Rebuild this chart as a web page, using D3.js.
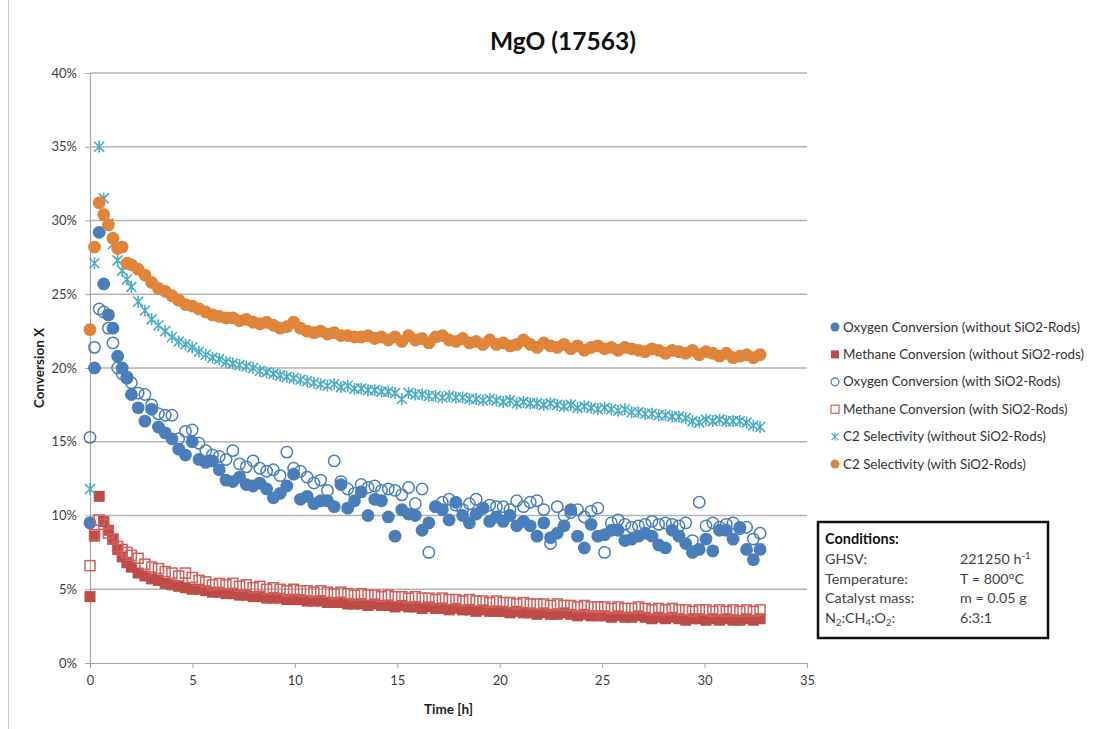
<!DOCTYPE html>
<html>
<head>
<meta charset="utf-8">
<script src="https://cdn.jsdelivr.net/npm/d3@7"></script>
<style>
  body { margin: 0; background: #fff; }
  svg { font-family: Lato, "Open Sans", sans-serif; }
</style>
</head>
<body>
<div id="chart"></div>
<script>
// sampling times [h], shared by all six series
var hours = [0, 0.22, 0.45, 0.67, 0.9, 1.12, 1.35, 1.57, 1.8, 2.02,
  2.35, 2.68, 3.01, 3.34, 3.67, 4.0, 4.33, 4.66, 4.99, 5.32,
  5.65, 5.98, 6.31, 6.64, 6.97, 7.3, 7.63, 7.96, 8.29, 8.62,
  8.95, 9.28, 9.61, 9.94, 10.27, 10.6, 10.93, 11.26, 11.59, 11.92,
  12.25, 12.58, 12.91, 13.24, 13.57, 13.9, 14.23, 14.56, 14.89, 15.22,
  15.55, 15.88, 16.21, 16.54, 16.87, 17.2, 17.53, 17.86, 18.19, 18.52,
  18.85, 19.18, 19.51, 19.84, 20.17, 20.5, 20.83, 21.16, 21.49, 21.82,
  22.15, 22.48, 22.81, 23.14, 23.47, 23.8, 24.13, 24.46, 24.79, 25.12,
  25.45, 25.78, 26.11, 26.44, 26.77, 27.1, 27.43, 27.76, 28.09, 28.42,
  28.75, 29.08, 29.41, 29.74, 30.07, 30.4, 30.73, 31.06, 31.39, 31.72,
  32.05, 32.38, 32.71];

// values in %
var oxygenWithout = [9.5, 20.0, 29.2, 25.7, 23.6, 22.7, 20.8, 20.0, 19.3, 18.2,
  17.3, 16.4, 17.2, 16.0, 15.6, 15.2, 14.5, 14.1, 15.0, 13.8,
  13.6, 13.7, 13.1, 12.4, 12.3, 12.6, 12.1, 12.0, 12.2, 11.8,
  11.2, 11.5, 12.0, 12.8, 11.1, 11.3, 10.8, 11.0, 11.0, 10.6,
  12.1, 10.5, 11.0, 11.6, 10.0, 11.1, 11.0, 9.9, 8.6, 10.4,
  10.1, 10.0, 9.0, 9.5, 10.6, 10.4, 9.7, 10.9, 10.0, 9.5,
  10.1, 10.5, 9.6, 9.9, 9.6, 10.0, 9.3, 9.6, 9.3, 8.6,
  9.5, 8.5, 8.8, 9.3, 10.4, 8.6, 7.8, 9.4, 8.6, 8.7,
  9.0, 9.0, 8.3, 8.4, 8.6, 8.8, 8.6, 8.0, 7.8, 9.0,
  8.6, 8.1, 7.5, 7.7, 8.4, 7.6, 9.0, 9.0, 8.4, 9.2,
  7.7, 7.0, 7.7];

var methaneWithout = [4.5, 8.6, 11.3, 9.6, 9.0, 8.4, 7.7, 7.2, 6.8, 6.5,
  6.1, 5.9, 5.7, 5.6, 5.4, 5.3, 5.2, 5.1, 5.0, 5.0,
  4.9, 4.8, 4.8, 4.7, 4.7, 4.6, 4.6, 4.5, 4.5, 4.4,
  4.4, 4.4, 4.3, 4.3, 4.3, 4.2, 4.2, 4.2, 4.1, 4.1,
  4.1, 4.0, 4.0, 4.0, 3.9, 4.0, 3.9, 3.9, 3.8, 3.9,
  3.8, 3.8, 3.7, 3.8, 3.7, 3.7, 3.6, 3.7, 3.6, 3.6,
  3.5, 3.6, 3.5, 3.5, 3.5, 3.4, 3.5, 3.4, 3.4, 3.3,
  3.4, 3.3, 3.3, 3.4, 3.3, 3.2, 3.3, 3.2, 3.2, 3.2,
  3.1, 3.2, 3.1, 3.1, 3.2, 3.1, 3.0, 3.1, 3.0, 3.1,
  3.0, 2.9, 3.0, 3.0, 2.9, 3.0, 2.9, 3.0, 2.9, 2.9,
  3.0, 2.9, 3.0];

var oxygenWith = [15.3, 21.4, 24.0, 23.8, 22.7, 21.7, 20.0, 19.6, 19.4, 19.0,
  18.3, 18.2, 17.5, 16.9, 16.8, 16.8, 15.2, 15.7, 15.8, 14.9,
  14.4, 14.1, 14.0, 13.8, 14.4, 13.5, 13.3, 13.7, 13.2, 13.0,
  13.1, 12.7, 14.3, 13.2, 13.0, 12.6, 12.2, 12.4, 11.7, 13.7,
  12.3, 11.8, 11.5, 12.1, 11.9, 12.0, 11.7, 11.8, 11.7, 11.4,
  11.9, 10.8, 11.8, 7.5, 10.6, 10.9, 11.1, 10.7, 10.4, 10.8,
  11.1, 10.5, 10.7, 10.6, 10.6, 10.4, 11.0, 10.6, 10.9, 11.0,
  10.4, 8.1, 10.6, 10.0, 10.2, 10.4, 9.9, 10.3, 10.5, 7.5,
  9.5, 9.7, 9.4, 9.2, 9.3, 9.4, 9.6, 9.4, 9.5, 9.4,
  9.3, 9.5, 8.3, 10.9, 9.3, 9.5, 9.2, 9.4, 9.5, 9.1,
  9.2, 8.4, 8.8];

var methaneWith = [6.6, 8.7, 9.7, 9.4, 8.8, 8.4, 7.9, 7.7, 7.5, 7.3,
  7.1, 6.7, 6.5, 6.4, 6.2, 6.1, 5.9, 6.1, 5.8, 5.6,
  5.5, 5.3, 5.4, 5.3, 5.4, 5.2, 5.3, 5.1, 5.2, 5.0,
  5.1, 5.0, 4.9, 5.0, 4.9, 4.9, 4.8, 4.9, 4.8, 4.7,
  4.8, 4.7, 4.6, 4.7, 4.6, 4.6, 4.5, 4.6, 4.5, 4.5,
  4.4, 4.5, 4.4, 4.4, 4.3, 4.4, 4.3, 4.3, 4.2, 4.3,
  4.2, 4.2, 4.1, 4.2, 4.1, 4.1, 4.0, 4.1, 4.0, 4.0,
  4.0, 3.9, 4.0, 3.9, 3.9, 3.8, 3.9, 3.8, 3.8, 3.8,
  3.7, 3.8, 3.7, 3.7, 3.8, 3.7, 3.6, 3.7, 3.6, 3.7,
  3.6, 3.6, 3.5, 3.6, 3.6, 3.5, 3.6, 3.5, 3.6, 3.5,
  3.6, 3.5, 3.6];

var c2Without = [11.8, 27.1, 35.0, 31.5, 29.8, 28.4, 27.3, 26.6, 26.0, 25.5,
  24.5, 23.9, 23.3, 22.9, 22.5, 22.1, 21.8, 21.6, 21.4, 21.1,
  20.9, 20.7, 20.6, 20.4, 20.3, 20.2, 20.1, 20.0, 19.8, 19.7,
  19.6, 19.5, 19.4, 19.3, 19.2, 19.1, 19.0, 18.9, 18.8, 18.9,
  18.7, 18.8, 18.6, 18.6, 18.5, 18.5, 18.4, 18.4, 18.3, 17.9,
  18.3, 18.2, 18.2, 18.1, 18.1, 18.0, 18.1, 18.0, 18.0, 17.9,
  17.9, 17.8, 17.9, 17.8, 17.7, 17.8, 17.6, 17.7, 17.6, 17.6,
  17.5, 17.6, 17.5, 17.4, 17.5, 17.3, 17.4, 17.3, 17.2, 17.3,
  17.2, 17.1, 17.2, 17.0, 17.0, 16.9, 16.9, 16.8, 16.8, 16.7,
  16.7, 16.6, 16.4, 16.3, 16.5, 16.4, 16.5, 16.4, 16.4, 16.4,
  16.3, 16.1, 16.0];

var c2With = [22.6, 28.2, 31.2, 30.4, 29.7, 28.8, 28.1, 28.2, 27.1, 27.0,
  26.7, 26.3, 25.8, 25.4, 25.2, 24.9, 24.6, 24.3, 24.2, 24.0,
  23.8, 23.6, 23.5, 23.4, 23.4, 23.2, 23.3, 23.1, 23.0, 23.1,
  22.9, 22.7, 22.8, 23.1, 22.7, 22.5, 22.4, 22.5, 22.3, 22.4,
  22.2, 22.2, 22.1, 22.1, 22.2, 22.0, 22.1, 21.9, 22.1, 21.8,
  22.2, 21.9, 22.0, 21.7, 22.1, 22.2, 21.9, 21.8, 22.0, 21.7,
  21.8, 21.6, 21.9, 21.6, 21.7, 21.5, 21.6, 21.9, 21.6, 21.4,
  21.7, 21.5, 21.4, 21.6, 21.3, 21.5, 21.2, 21.4, 21.5, 21.3,
  21.4, 21.2, 21.4, 21.3, 21.2, 21.1, 21.3, 21.2, 21.0, 21.2,
  21.1, 21.0, 21.2, 20.9, 21.1, 21.0, 20.8, 21.0, 20.7, 20.8,
  20.9, 20.7, 20.9];

var seriesNames = [
  "Oxygen Conversion (without SiO2-Rods)",
  "Methane Conversion (without SiO2-rods)",
  "Oxygen Conversion (with SiO2-Rods)",
  "Methane Conversion (with SiO2-Rods)",
  "C2 Selectivity (without SiO2-Rods)",
  "C2 Selectivity (with SiO2-Rods)"
];
var xTicks = [0, 5, 10, 15, 20, 25, 30, 35];
var yTicks = [0, 0.05, 0.10, 0.15, 0.20, 0.25, 0.30, 0.35, 0.40];

var width = 1106, height = 729;
var margin = {top: 73, right: 299, bottom: 65, left: 90};

var svg = d3.select("#chart").append("svg")
    .attr("width", width)
    .attr("height", height);

// faint outer chart frame (left edge is what shows)
svg.append("line")
  .attr("x1", 8.5).attr("x2", 8.5).attr("y1", 0).attr("y2", height)
  .attr("stroke", "#c8c8c8");

var x = d3.scaleLinear().domain([0, 35]).range([margin.left, width - margin.right]);
var y = d3.scaleLinear().domain([0, 0.40]).range([height - margin.bottom - 1, margin.top]);

// gridlines
svg.append("g")
  .selectAll("line")
  .data(yTicks.slice(1))
  .enter().append("line")
  .attr("x1", x(0)).attr("x2", x(35))
  .attr("y1", d => y(d)).attr("y2", d => y(d))
  .attr("stroke", "#b4b4b4")
  .attr("stroke-width", 1.5);

var yAxis = svg.append("g")
  .attr("transform", "translate(" + x(0) + ",0)")
  .call(d3.axisLeft(y).tickValues(yTicks).tickFormat(d3.format(".0%")).tickSize(5).tickPadding(8));
var xAxis = svg.append("g")
  .attr("transform", "translate(0," + y(0) + ")")
  .call(d3.axisBottom(x).tickValues(xTicks).tickSize(5).tickPadding(8));

[xAxis, yAxis].forEach(function(a) {
  a.select(".domain").attr("stroke", "#a6a6a6").attr("stroke-width", 1.2);
  a.selectAll(".tick line").attr("stroke", "#a6a6a6");
  a.selectAll(".tick text").attr("fill", "#404040").style("font-size", "13px")
    .style("font-family", "Lato, sans-serif");
});

// titles
svg.append("text")
  .attr("x", 563).attr("y", 50)
  .attr("text-anchor", "middle")
  .style("font-size", "24.5px").style("font-weight", "bold")
  .attr("fill", "#111")
  .text("MgO (17563)");

svg.append("text")
  .attr("x", x(17.5)).attr("y", 714)
  .attr("text-anchor", "middle")
  .style("font-size", "13.5px").style("font-weight", "bold")
  .attr("fill", "#222")
  .text("Time [h]");

svg.append("text")
  .attr("transform", "translate(44," + y(0.20) + ") rotate(-90)")
  .attr("text-anchor", "middle")
  .style("font-size", "13.5px").style("font-weight", "bold")
  .attr("fill", "#222")
  .text("Conversion X");

// marker shapes
var blue = "#4a7ebb", red = "#be4b48", teal = "#4bacc6", orange = "#e0843a";
var starPath = "M0,-6L0,6M-5,-5L5,5M-5,5L5,-5";

function drawMarker(g, kind) {
  if (kind === "dot") {
    return g.append("circle").attr("r", 6.4);
  } else if (kind === "ring") {
    return g.append("circle").attr("r", 5.7).attr("fill", "none").attr("stroke-width", 1.5);
  } else if (kind === "square") {
    return g.append("rect").attr("x", -5.5).attr("y", -5.5).attr("width", 11).attr("height", 11);
  } else if (kind === "box") {
    return g.append("rect").attr("x", -5).attr("y", -5).attr("width", 10).attr("height", 10)
      .attr("fill", "none").attr("stroke-width", 1.5);
  } else {
    return g.append("path").attr("d", starPath).attr("fill", "none").attr("stroke-width", 1.6);
  }
}

var series = [
  {name: seriesNames[0], values: oxygenWithout, kind: "dot", color: blue},
  {name: seriesNames[1], values: methaneWithout, kind: "square", color: red},
  {name: seriesNames[2], values: oxygenWith, kind: "ring", color: blue},
  {name: seriesNames[3], values: methaneWith, kind: "box", color: "#d0605d"},
  {name: seriesNames[4], values: c2Without, kind: "star", color: teal},
  {name: seriesNames[5], values: c2With, kind: "dot", color: orange}
];

function paint(m, s) {
  if (s.kind === "dot" || s.kind === "square") m.attr("fill", s.color);
  else m.attr("stroke", s.color);
}

series.forEach(function(s) {
  var g = svg.append("g");
  s.values.forEach(function(v, i) {
    var p = g.append("g")
      .attr("transform", "translate(" + x(hours[i]) + "," + y(v / 100) + ")");
    paint(drawMarker(p, s.kind), s);
  });
});

// legend
var legend = svg.append("g").attr("transform", "translate(835,327)");
series.forEach(function(s, i) {
  var row = legend.append("g").attr("transform", "translate(0," + (i * 27.4) + ")");
  var m = drawMarker(row, s.kind);
  if (s.kind === "dot") m.attr("r", 4.5);
  if (s.kind === "square") m.attr("x", -4).attr("y", -4).attr("width", 8).attr("height", 8);
  if (s.kind === "ring") m.attr("r", 4).attr("stroke-width", 1.2);
  if (s.kind === "box") m.attr("x", -4).attr("y", -4).attr("width", 8).attr("height", 8).attr("stroke-width", 1.2);
  if (s.kind === "star") m.attr("transform", "scale(0.7)");
  paint(m, s);
  row.append("text")
    .attr("x", 8).attr("y", 4.5)
    .style("font-size", "13.4px")
    .attr("fill", "#333")
    .text(s.name);
});

// conditions box
var cond = svg.append("g").attr("transform", "translate(818,522)");
cond.append("rect")
  .attr("width", 230).attr("height", 116)
  .attr("fill", "#fff").attr("stroke", "#111").attr("stroke-width", 2.5);
cond.append("text").attr("x", 7).attr("y", 22)
  .style("font-size", "14.5px").style("font-weight", "bold").attr("fill", "#111")
  .text("Conditions:");

// each part: [text, shift] where shift is "sup", "sub" or nothing
var rows = [
  [[["GHSV:"]], [["221250 h"], ["-1", "sup"]]],
  [[["Temperature:"]], [["T = 800°C"]]],
  [[["Catalyst mass:"]], [["m = 0.05 g"]]],
  [[["N"], ["2", "sub"], [":CH"], ["4", "sub"], [":O"], ["2", "sub"], [":"]], [["6:3:1"]]]
];

function richText(t, parts) {
  var shift = 0;
  parts.forEach(function(p) {
    var target = p[1] === "sup" ? -5 : p[1] === "sub" ? 3 : 0;
    var ts = t.append("tspan").attr("dy", target - shift).text(p[0]);
    if (p[1]) ts.style("font-size", "9.5px");
    shift = target;
  });
}

rows.forEach(function(r, i) {
  var yy = 42 + i * 19.7;
  richText(cond.append("text").attr("x", 7).attr("y", yy)
    .style("font-size", "14.3px").attr("fill", "#444"), r[0]);
  richText(cond.append("text").attr("x", 142).attr("y", yy)
    .style("font-size", "14.3px").attr("fill", "#444"), r[1]);
});
</script>
</body>
</html>
